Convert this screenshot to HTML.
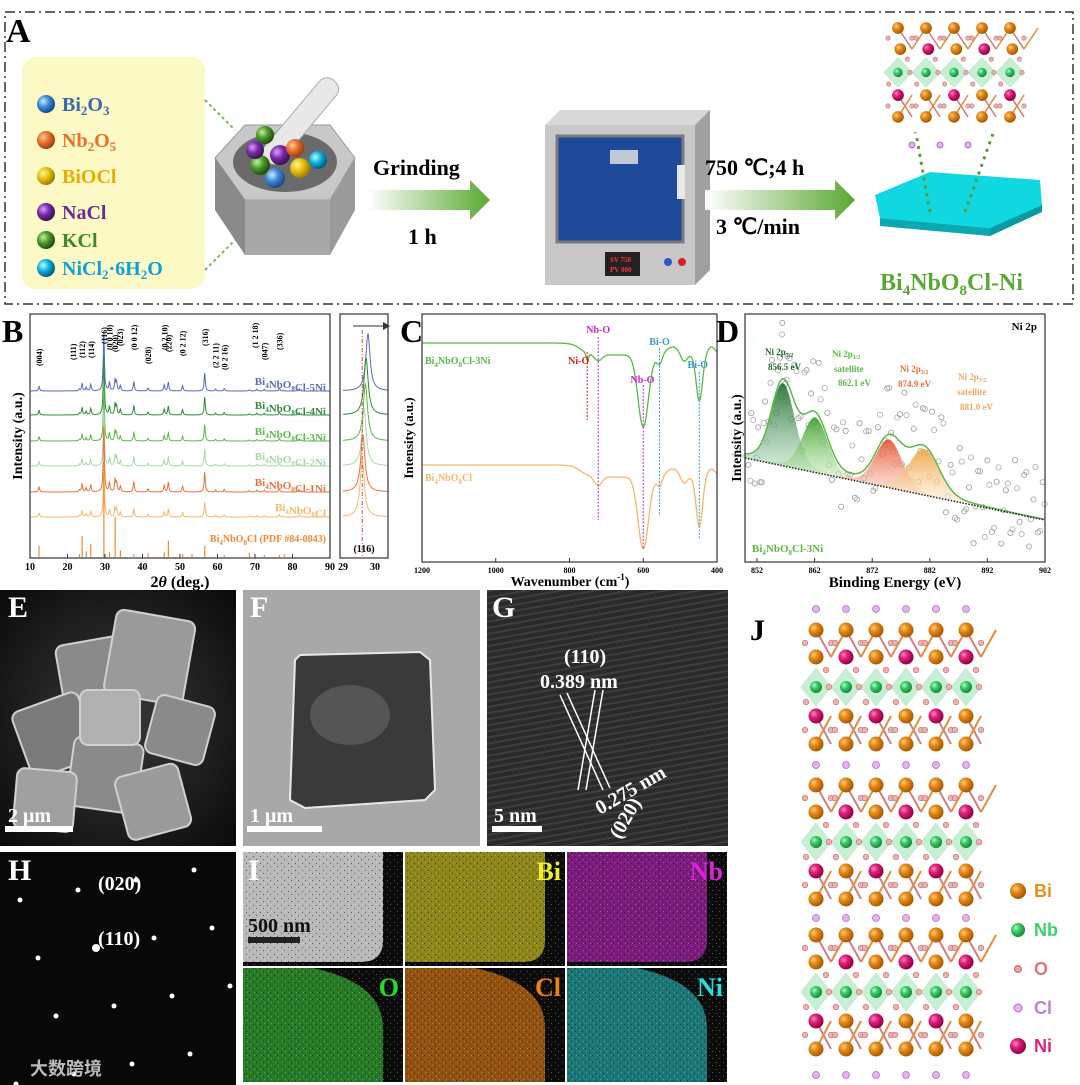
<!DOCTYPE html>
<html><head><meta charset="utf-8">
<style>
body{margin:0;background:#fff;}
svg{display:block;font-family:"Liberation Serif",serif;font-weight:bold;}
</style></head>
<body>
<svg id="fig" width="1080" height="1085" viewBox="0 0 1080 1085" xmlns="http://www.w3.org/2000/svg">
<defs>
<radialGradient id="gOr" cx="35%" cy="35%" r="65%"><stop offset="0" stop-color="#ffd27a"/><stop offset="0.4" stop-color="#e88a1a"/><stop offset="1" stop-color="#a85a00"/></radialGradient>
<radialGradient id="gNi" cx="35%" cy="35%" r="65%"><stop offset="0" stop-color="#ff8ac4"/><stop offset="0.4" stop-color="#e0207a"/><stop offset="1" stop-color="#900040"/></radialGradient>
<radialGradient id="gNb" cx="35%" cy="35%" r="65%"><stop offset="0" stop-color="#b8ffcc"/><stop offset="0.4" stop-color="#3ccf6a"/><stop offset="1" stop-color="#1a8a3a"/></radialGradient>
<radialGradient id="gBl" cx="35%" cy="35%" r="65%"><stop offset="0" stop-color="#cfe8ff"/><stop offset="0.5" stop-color="#3c8ad8"/><stop offset="1" stop-color="#1a4a8a"/></radialGradient>
<radialGradient id="gOrA" cx="35%" cy="35%" r="65%"><stop offset="0" stop-color="#ffc9a0"/><stop offset="0.5" stop-color="#e8702a"/><stop offset="1" stop-color="#a04010"/></radialGradient>
<radialGradient id="gYe" cx="35%" cy="35%" r="65%"><stop offset="0" stop-color="#fff4a0"/><stop offset="0.5" stop-color="#e8c010"/><stop offset="1" stop-color="#a08000"/></radialGradient>
<radialGradient id="gPu" cx="35%" cy="35%" r="65%"><stop offset="0" stop-color="#d8a0ff"/><stop offset="0.5" stop-color="#7a2aa8"/><stop offset="1" stop-color="#40105a"/></radialGradient>
<radialGradient id="gGr" cx="35%" cy="35%" r="65%"><stop offset="0" stop-color="#c8f0a0"/><stop offset="0.5" stop-color="#4a9a2a"/><stop offset="1" stop-color="#205010"/></radialGradient>
<radialGradient id="gCy" cx="35%" cy="35%" r="65%"><stop offset="0" stop-color="#c0f8ff"/><stop offset="0.5" stop-color="#10b0e0"/><stop offset="1" stop-color="#006080"/></radialGradient>
<linearGradient id="arrowG" x1="0" x2="1"><stop offset="0" stop-color="#fff"/><stop offset="1" stop-color="#5aa832"/></linearGradient>
<linearGradient id="pk1" x1="0" y1="0" x2="0" y2="1"><stop offset="0" stop-color="#1a6a2a"/><stop offset="1" stop-color="#bfe8c8" stop-opacity="0.6"/></linearGradient>
<linearGradient id="pk2" x1="0" y1="0" x2="0" y2="1"><stop offset="0" stop-color="#3aa02a"/><stop offset="1" stop-color="#d8f0c8" stop-opacity="0.6"/></linearGradient>
<linearGradient id="pk3" x1="0" y1="0" x2="0" y2="1"><stop offset="0" stop-color="#e0502a"/><stop offset="1" stop-color="#ffe0d0" stop-opacity="0.6"/></linearGradient>
<linearGradient id="pk4" x1="0" y1="0" x2="0" y2="1"><stop offset="0" stop-color="#f0a040"/><stop offset="1" stop-color="#fff0d8" stop-opacity="0.6"/></linearGradient>
<radialGradient id="semG" cx="50%" cy="50%" r="70%"><stop offset="0" stop-color="#3a3a3a"/><stop offset="1" stop-color="#0a0a0a"/></radialGradient>
<pattern id="stripes" width="6" height="6" patternUnits="userSpaceOnUse" patternTransform="rotate(80)"><rect width="6" height="6" fill="#2a2a2a"/><rect width="2" height="6" fill="#3e3e3e"/></pattern>
<pattern id="noise" width="7" height="7" patternUnits="userSpaceOnUse"><rect width="7" height="7" fill="none"/><rect x="1" y="2" width="1" height="1" fill="#000" opacity=".5"/><rect x="4" y="5" width="1" height="1" fill="#000" opacity=".5"/><rect x="5" y="1" width="1" height="1" fill="#fff" opacity=".3"/><rect x="2" y="5" width="1" height="1" fill="#fff" opacity=".3"/></pattern>
</defs>

<!-- PANEL A -->
<g>
<rect x="5" y="12" width="1068" height="292" fill="none" stroke="#333" stroke-width="1.5" stroke-dasharray="10,4,2,4"/>
<text x="6" y="42" font-size="34">A</text>
<rect x="22" y="57" width="183" height="232" rx="14" fill="#fdf9c4"/>
<g font-size="20">
<circle cx="46" cy="104" r="9" fill="url(#gBl)"/><text x="62" y="111" fill="#3a6ab0">Bi<tspan font-size="13" dy="4">2</tspan><tspan dy="-4">O</tspan><tspan font-size="13" dy="4">3</tspan></text>
<circle cx="46" cy="140" r="9" fill="url(#gOrA)"/><text x="62" y="147" fill="#e8702a">Nb<tspan font-size="13" dy="4">2</tspan><tspan dy="-4">O</tspan><tspan font-size="13" dy="4">5</tspan></text>
<circle cx="46" cy="176" r="9" fill="url(#gYe)"/><text x="62" y="183" fill="#e0b000">BiOCl</text>
<circle cx="46" cy="212" r="9" fill="url(#gPu)"/><text x="62" y="219" fill="#6a2a98">NaCl</text>
<circle cx="46" cy="240" r="9" fill="url(#gGr)"/><text x="62" y="247" fill="#3a8a2a">KCl</text>
<circle cx="46" cy="268" r="9" fill="url(#gCy)"/><text x="62" y="275" fill="#10a0d8">NiCl<tspan font-size="13" dy="4">2</tspan><tspan dy="-4">·6H</tspan><tspan font-size="13" dy="4">2</tspan><tspan dy="-4">O</tspan></text>
</g>
<line x1="205" y1="100" x2="235" y2="130" stroke="#7ab85a" stroke-width="2" stroke-dasharray="3,3"/>
<line x1="205" y1="270" x2="250" y2="225" stroke="#7ab85a" stroke-width="2" stroke-dasharray="3,3"/>
<g>
<polygon points="215,158 245,125 330,125 355,158 330,200 245,200" fill="#c8c8c8" stroke="#999"/>
<polygon points="215,158 245,200 245,255 215,210" fill="#8a8a8a"/>
<polygon points="245,200 330,200 330,255 245,255" fill="#a8a8a8"/>
<polygon points="330,200 355,158 355,210 330,255" fill="#9a9a9a"/>
<ellipse cx="285" cy="162" rx="52" ry="30" fill="#6a6a6a"/>
<rect x="290" y="68" width="22" height="105" rx="10" transform="rotate(40 300 120)" fill="#e8e8e8" stroke="#aaa"/>
<circle cx="260" cy="165" r="10" fill="url(#gGr)"/><circle cx="280" cy="155" r="10" fill="url(#gPu)"/><circle cx="300" cy="168" r="10" fill="url(#gYe)"/><circle cx="275" cy="178" r="10" fill="url(#gBl)"/><circle cx="255" cy="150" r="9" fill="url(#gPu)"/><circle cx="295" cy="148" r="9" fill="url(#gOrA)"/><circle cx="318" cy="160" r="9" fill="url(#gCy)"/><circle cx="265" cy="135" r="9" fill="url(#gGr)"/>
</g>
<polygon points="368,190 470,190 470,180 490,200 470,220 470,210 368,210" fill="url(#arrowG)"/>
<text x="373" y="175" font-size="22">Grinding</text>
<text x="408" y="244" font-size="22">1 h</text>
<g>
<polygon points="545,125 560,110 710,110 695,125" fill="#d8d8d8"/>
<polygon points="695,125 710,110 710,270 695,285" fill="#a0a0a0"/>
<rect x="545" y="125" width="150" height="160" fill="#c8c8c8"/>
<rect x="557" y="136" width="126" height="106" fill="#1f4a9a" stroke="#7a7a7a" stroke-width="3"/>
<rect x="610" y="150" width="28" height="14" fill="#c0c8d8"/>
<rect x="677" y="165" width="8" height="34" fill="#e8e8e8"/>
<rect x="605" y="252" width="35" height="24" fill="#222"/>
<text x="610" y="262" font-size="7" fill="#f33">SV 750</text><text x="610" y="272" font-size="7" fill="#f33">PV 000</text>
<circle cx="668" cy="262" r="4" fill="#2a5ac8"/><circle cx="682" cy="262" r="4" fill="#d82020"/>
</g>
<polygon points="705,190 835,190 835,180 855,200 835,220 835,210 705,210" fill="url(#arrowG)"/>
<text x="705" y="175" font-size="22">750 ℃;4 h</text>
<text x="716" y="234" font-size="22">3 ℃/min</text>
<g>
<polygon points="875,195 930,172 1040,180 1042,205 990,228 880,218" fill="#10d8e0"/>
<polygon points="880,218 990,228 990,236 880,226" fill="#0aa8b0"/>
<polygon points="990,228 1042,205 1042,212 990,236" fill="#089aa0"/>
<line x1="930" y1="212" x2="910" y2="100" stroke="#5a9a3a" stroke-width="3" stroke-dasharray="3,5"/>
<line x1="965" y1="212" x2="1005" y2="100" stroke="#5a9a3a" stroke-width="3" stroke-dasharray="3,5"/>
</g>
<g>
<ellipse cx="955" cy="78" rx="82" ry="62" fill="#fff"/>
<g id="zoomRows"></g>
</g>
<text x="880" y="290" font-size="24" fill="#5aa832">Bi<tspan font-size="15" dy="5">4</tspan><tspan dy="-5">NbO</tspan><tspan font-size="15" dy="5">8</tspan><tspan dy="-5">Cl-Ni</tspan></text>
</g>

<!-- PANEL B -->
<g>
<text x="2" y="342" font-size="32">B</text>
<g id="xrdPlot"></g>
<rect x="30" y="314" width="300" height="244" fill="none" stroke="#333" stroke-width="1.2"/>
<rect x="340" y="314" width="48" height="244" fill="none" stroke="#333" stroke-width="1.2"/>
<text transform="translate(22,436) rotate(-90)" text-anchor="middle" font-size="14">Intensity (a.u.)</text>
<text x="180" y="587" text-anchor="middle" font-size="16">2<tspan font-style="italic">θ</tspan> (deg.)</text>
<text x="364" y="552" text-anchor="middle" font-size="10">(116)</text>
<line x1="353" y1="326" x2="383" y2="326" stroke="#333" stroke-width="1"/><polygon points="383,322 390,326 383,330" fill="#333"/>
</g>

<!-- PANEL C -->
<g>
<text x="400" y="342" font-size="32">C</text>
<g id="ftirPlot"></g>
<rect x="422" y="314" width="295" height="248" fill="none" stroke="#333" stroke-width="1.2"/>
<text transform="translate(413,438) rotate(-90)" text-anchor="middle" font-size="13">Intensity (a.u.)</text>
<text x="570" y="586" text-anchor="middle" font-size="14">Wavenumber (cm<tspan font-size="9" dy="-6">-1</tspan><tspan dy="6">)</tspan></text>
</g>

<!-- PANEL D -->
<g>
<text x="716" y="342" font-size="32">D</text>
<g id="xpsPlot"></g>
<rect x="745" y="314" width="300" height="248" fill="none" stroke="#333" stroke-width="1.2"/>
<text transform="translate(741,438) rotate(-90)" text-anchor="middle" font-size="14">Intensity (a.u.)</text>
<text x="895" y="587" text-anchor="middle" font-size="15">Binding Energy (eV)</text>
<text x="1037" y="330" text-anchor="end" font-size="11">Ni 2p</text>
<text x="752" y="552" font-size="11" fill="#5cb848">Bi<tspan font-size="7" dy="3">4</tspan><tspan dy="-3">NbO</tspan><tspan font-size="7" dy="3">8</tspan><tspan dy="-3">Cl-3Ni</tspan></text>
<g font-size="9">
<text x="765" y="355" fill="#1a6a2a">Ni 2p<tspan font-size="6" dy="2">3/2</tspan></text><text x="768" y="370" fill="#1a6a2a">856.5 eV</text>
<text x="832" y="357" fill="#5cb848">Ni 2p<tspan font-size="6" dy="2">3/2</tspan></text><text x="834" y="372" fill="#5cb848">satellite</text><text x="838" y="386" fill="#5cb848">862.1 eV</text>
<text x="900" y="372" fill="#e8703a">Ni 2p<tspan font-size="6" dy="2">3/2</tspan></text><text x="898" y="387" fill="#e8703a">874.9 eV</text>
<text x="958" y="380" fill="#f0a860">Ni 2p<tspan font-size="6" dy="2">3/2</tspan></text><text x="957" y="395" fill="#f0a860">satellite</text><text x="960" y="410" fill="#f0a860">881.0 eV</text>
</g>
</g>

<!-- PANEL E -->
<g>
<rect x="0" y="590" width="236" height="256" fill="url(#semG)"/>
<g fill="#8a8a8a" stroke="#d0d0d0" stroke-width="2">
<rect x="60" y="640" width="70" height="70" rx="8" transform="rotate(-10 95 675)"/>
<rect x="110" y="615" width="80" height="85" rx="8" transform="rotate(10 150 655)" fill="#9a9a9a"/>
<rect x="150" y="700" width="60" height="60" rx="8" transform="rotate(15 180 730)"/>
<rect x="20" y="700" width="70" height="70" rx="8" transform="rotate(-20 55 735)" fill="#7a7a7a"/>
<rect x="70" y="740" width="70" height="70" rx="8" transform="rotate(8 105 775)"/>
<rect x="120" y="770" width="65" height="65" rx="8" transform="rotate(-15 150 800)" fill="#9a9a9a"/>
<rect x="15" y="770" width="60" height="60" rx="8" transform="rotate(5 45 800)" fill="#a0a0a0"/>
<rect x="80" y="690" width="60" height="55" rx="8" fill="#b0b0b0"/>
</g>
<text x="8" y="617" font-size="30" fill="#fff">E</text>
<rect x="5" y="826" width="68" height="6" fill="#fff"/>
<text x="8" y="822" font-size="20" fill="#fff">2 μm</text>
</g>

<!-- PANEL F -->
<g>
<rect x="243" y="590" width="237" height="256" fill="#a8a8a8"/>
<path d="M295,660 L300,655 L420,652 L430,660 L435,790 L425,800 L305,808 L290,800 Z" fill="#3a3a3a" stroke="#e8e8e8" stroke-width="2"/>
<ellipse cx="350" cy="715" rx="40" ry="30" fill="#555"/>
<text x="250" y="617" font-size="30" fill="#fff">F</text>
<rect x="247" y="826" width="75" height="6" fill="#fff"/>
<text x="250" y="822" font-size="20" fill="#fff">1 μm</text>
</g>

<!-- PANEL G -->
<g>
<rect x="487" y="590" width="241" height="256" fill="url(#stripes)"/>
<text x="492" y="617" font-size="30" fill="#fff">G</text>
<g stroke="#fff" stroke-width="1.5">
<line x1="560" y1="695" x2="603" y2="790"/><line x1="567" y1="693" x2="610" y2="788"/>
<line x1="595" y1="690" x2="578" y2="790"/><line x1="603" y1="690" x2="586" y2="790"/>
</g>
<text x="564" y="663" font-size="20" fill="#fff">(110)</text>
<text x="540" y="688" font-size="20" fill="#fff">0.389 nm</text>
<text transform="translate(600,815) rotate(-30)" font-size="20" fill="#fff">0.275 nm</text>
<text transform="translate(620,840) rotate(-60)" font-size="20" fill="#fff">(020)</text>
<rect x="492" y="826" width="50" height="6" fill="#fff"/>
<text x="494" y="822" font-size="20" fill="#fff">5 nm</text>
</g>

<!-- PANEL H -->
<g>
<rect x="0" y="852" width="236" height="233" fill="#080808"/>
<g id="saed" fill="#fff"></g>
<text x="8" y="880" font-size="30" fill="#fff">H</text>
<text x="98" y="890" font-size="20" fill="#fff">(020)</text>
<text x="98" y="945" font-size="20" fill="#fff">(110)</text>
<text x="30" y="1075" font-size="18" fill="#bbb" font-family="'Liberation Sans','Noto Sans CJK SC',sans-serif">大数跨境</text>
</g>

<!-- PANEL I -->
<g id="mapping"></g>

<!-- PANEL J -->
<g>
<text x="750" y="640" font-size="30">J</text>
<g id="structure"></g>
<g font-size="18" font-family="'Liberation Sans',sans-serif">
<circle cx="1018" cy="891" r="8" fill="url(#gOr)"/><text x="1034" y="897" fill="#e8901a">Bi</text>
<circle cx="1018" cy="930" r="7" fill="url(#gNb)"/><text x="1034" y="936" fill="#3ccf6a">Nb</text>
<circle cx="1018" cy="969" r="3.5" fill="#e8a0a0" stroke="#c07070"/><text x="1034" y="975" fill="#e07878">O</text>
<circle cx="1018" cy="1008" r="4" fill="#e8b0f0" stroke="#b070c0"/><text x="1034" y="1014" fill="#c080d8">Cl</text>
<circle cx="1018" cy="1046" r="8" fill="url(#gNi)"/><text x="1034" y="1052" fill="#e0207a">Ni</text>
</g>
</g>
</svg>

<script>
const NS="http://www.w3.org/2000/svg";
function mk(tag,attrs,parent){const e=document.createElementNS(NS,tag);for(const k in attrs)e.setAttribute(k,attrs[k]);parent.appendChild(e);return e;}

// ===== XRD data =====
const xrdPeaks=[12.4,23.2,23.9,25.0,26.2,29.7,31.2,32.7,33.1,34.1,37.7,41.5,45.8,46.9,50.7,56.6,59.5,61.8,68.5,70.5,72.5,76.5,81.8];
const xrdHeights=[8,3,12,6,11,100,14,18,14,9,16,5,10,15,9,30,3,4,2,3,3,5,4];
const xrdSeries=["Bi4NbO8Cl-5Ni","Bi4NbO8Cl-4Ni","Bi4NbO8Cl-3Ni","Bi4NbO8Cl-2Ni","Bi4NbO8Cl-1Ni","Bi4NbO8Cl"];
const xrdScale=[1.0,1.0,0.9,0.95,1.1,0.85];
const xrdColors=["#5b6bbf","#2e8b3e","#5cb848","#a8d8a8","#e8733a","#f5b86a"];
const xrdBase=[391,415,441,466,492,517];
const pdfPeaks=[12.4,23.2,23.9,25.0,26.2,29.7,31.2,32.7,34.1,37.7,41.5,45.8,46.9,50.7,53.2,56.6,61.8,68.5,72.5,76.5,77.8];
const pdfHeights=[12,3,22,6,14,100,5,42,7,3,4,5,17,3,3,12,2,4,2,2,3];
const insetCenters=[29.78,29.72,29.70,29.66,29.62,29.60];
const xrdTicks=[10,20,30,40,50,60,70,80,90];
const hkl=[["(004)",12.4],["(111)",21.5],["(112)",23.9],["(114)",26.2],["(116)",29.7],["(0 0 10)",31.2],["(020)",32.7],["(023)",34.0],["(0 0 12)",37.7],["(028)",41.5],["(0 2 10)",45.8],["(220)",46.9],["(0 2 12)",50.7],["(316)",56.6],["(2 2 11)",59.5],["(0 2 16)",61.8],["(1 2 18)",70],["(047)",72.5],["(336)",76.5]];
const hklTop=[338,332,330,330,316,322,324,318,322,336,322,324,328,318,340,342,320,332,322];

const xrdG=document.getElementById('xrdPlot');
const xX=t=>30+(t-10)/80*300;
const xIn=t=>343+(t-29)/1.0*32;
xrdSeries.forEach((name,i)=>{
  let d="";
  for(let t=10.2;t<=89.9;t+=0.08){
    let v=0;xrdPeaks.forEach((p,k)=>{v+=xrdHeights[k]/(1+Math.pow((t-p)/0.18,2));});
    let y=xrdBase[i]-v*0.6*xrdScale[i];
    y=Math.max(y,316);
    d+=(d?"L":"M")+xX(t).toFixed(1)+","+y.toFixed(1);
  }
  const p=mk('path',{d:d,fill:'none',stroke:xrdColors[i],'stroke-width':1},xrdG);
  
  
  const tx=mk('text',{x:326,y:xrdBase[i]-6,'text-anchor':'end','font-size':11,fill:xrdColors[i]},xrdG);
  tx.innerHTML=name.replace(/(\d)(?=Nb|Cl)/g,'<tspan font-size="7" dy="3">$1</tspan><tspan dy="-3"></tspan>');
  
  
  let di="";
  for(let t=29.0;t<=30.4;t+=0.01){
    const v=60/(1+Math.pow((t-insetCenters[i])/0.08,2));
    di+=(di?"L":"M")+xIn(t).toFixed(1)+","+(xrdBase[i]-v*0.95).toFixed(1);
  }
  const ip=mk('path',{d:di,fill:'none',stroke:xrdColors[i],'stroke-width':1},xrdG);
  
  
});
pdfPeaks.forEach((p,k)=>{
  const l=mk('line',{x1:xX(p),x2:xX(p),y1:557,y2:557-pdfHeights[k]*0.95,stroke:'#f08a30','stroke-width':1.2},xrdG);
  
  
});
{const t=mk('text',{x:326,y:542,'text-anchor':'end','font-size':10,fill:'#f08a30'},xrdG);t.innerHTML='Bi<tspan font-size="7" dy="3">4</tspan><tspan dy="-3">NbO</tspan><tspan font-size="7" dy="3">8</tspan><tspan dy="-3">Cl (PDF #84-0843)</tspan>';

}
mk('line',{x1:xIn(29.6),x2:xIn(29.6),y1:330,y2:556,stroke:'#d02020','stroke-dasharray':'4,2,1,2','stroke-width':0.8},xrdG);
hkl.forEach((h,k)=>{
  const t=mk('text',{transform:`translate(${xX(h[1])+3},${hklTop[k]+28}) rotate(-90)`,'font-size':8},xrdG);
  t.textContent=h[0];
  
  
});
xrdTicks.forEach(t=>{
  mk('line',{x1:xX(t),x2:xX(t),y1:558,y2:554,stroke:'#333'},xrdG);
  const tx=mk('text',{x:xX(t),y:570,'text-anchor':'middle','font-size':10},xrdG);
  tx.textContent=t;
  
  
});
[29,30].forEach(t=>{const tx=mk('text',{x:xIn(t),y:570,'text-anchor':'middle','font-size':10},xrdG);tx.textContent=t;

});

// ===== FTIR data =====
const ftirCenters=[752,722,690,600,556,490,448];
const ftirWidths=[5,14,10,20,10,12,12];
const ftirDepth3Ni=[7,6,0,72,10,8,46];
const ftirDepthPure=[0,9,0,72,10,8,50];
const ftirBase=[343,465];
const ftirColors=["#5cb848","#f5b86a"];
const ftirTicks=[1200,1000,800,600,400];
const ftirG=document.getElementById('ftirPlot');
const xW=w=>422+(1200-w)/800*295;
[ftirDepth3Ni,ftirDepthPure].forEach((dep,i)=>{
  let d="";
  for(let w=1200;w>=400;w-=2){
    let y=ftirBase[i];
    y+=12/(1+Math.exp(-(770-w)/12));
    ftirCenters.forEach((c,k)=>{y+=dep[k]*Math.exp(-Math.pow((w-c)/ftirWidths[k],2));});
    y-=8*Math.exp(-Math.pow((w-520)/25,2))+8*Math.exp(-Math.pow((w-415)/15,2));
    d+=(d?"L":"M")+xW(w).toFixed(1)+","+y.toFixed(1);
  }
  const p=mk('path',{d:d,fill:'none',stroke:ftirColors[i],'stroke-width':1.3},ftirG);
  
  
});
[["#d02020",752,352,420,"Ni-O",775,364],["#d020d0",722,337,520,"Nb-O",722,333],["#d020d0",600,385,548,"Nb-O",602,383],["#3a9ad8",556,348,515,"Bi-O",556,345],["#3a9ad8",448,372,540,"Bi-O",452,368]].forEach(a=>{
  mk('line',{x1:xW(a[1]),x2:xW(a[1]),y1:a[2],y2:a[3],stroke:a[0],'stroke-dasharray':'2,1.5','stroke-width':1},ftirG);
  const t=mk('text',{x:xW(a[5]),y:a[6],'text-anchor':'middle','font-size':10,fill:a[0]},ftirG);t.textContent=a[4];
  
  
});
{const t=mk('text',{x:425,y:364,'font-size':10,fill:'#5cb848'},ftirG);t.innerHTML='Bi<tspan font-size="7" dy="3">4</tspan><tspan dy="-3">NbO</tspan><tspan font-size="7" dy="3">8</tspan><tspan dy="-3">Cl-3Ni</tspan>';


const t2=mk('text',{x:425,y:481,'font-size':10,fill:'#f5b86a'},ftirG);t2.innerHTML='Bi<tspan font-size="7" dy="3">4</tspan><tspan dy="-3">NbO</tspan><tspan font-size="7" dy="3">8</tspan><tspan dy="-3">Cl</tspan>';

}
ftirTicks.forEach(w=>{mk('line',{x1:xW(w),x2:xW(w),y1:562,y2:558,stroke:'#333'},ftirG);
const t=mk('text',{x:xW(w),y:573,'text-anchor':'middle','font-size':8},ftirG);t.textContent=w;

});

// ===== XPS data =====
const xpsCenters=[856.5,862.1,874.9,881.0];
const xpsHeights=[72,48,42,40];
const xpsSigma=[1.3,1.4,1.5,1.7];
const xpsFills=["url(#pk1)","url(#pk2)","url(#pk3)","url(#pk4)"];
const xpsTicks=[852,862,872,882,892,902];
const xpsScatterE=[850.5,851,851.6,852.2,852.8,853.4,854,854.6,855.3,856,856.4,856.8,857.3,857.9,858.5,859.2,859.9,860.6,861.4,862,862.7,863.4,864.2,865,865.8,866.6,867.4,868.2,869,869.8,870.6,871.4,872.2,873,873.8,874.6,875.3,876,876.8,877.6,878.4,879.2,880,880.8,881.6,882.4,883.2,884,884.8,885.6,886.4,887.2,888,888.8,889.6,890.4,891.2,892,892.8,893.6,894.4,895.2,896,896.8,897.6,898.4,899.2,900,900.8,901.6];
const xpsScatterDy=[12,-20,25,-8,30,-15,5,-25,18,-10,-30,8,-12,22,-18,10,28,-22,-6,12,-28,16,-10,24,-14,30,-20,6,20,-26,10,-16,26,-8,14,-24,4,22,-12,-28,18,-6,28,-18,8,-22,16,-30,24,-10,20,-26,12,-4,30,-16,6,-24,20,-12,26,-8,18,-28,10,-20,24,-6,14,-18];
const xpsG=document.getElementById('xpsPlot');
const xE=e=>757+(e-852)/50*288;
const bg=e=>458+(e-849.9)/52.1*62;
const pk=(e,k)=>xpsHeights[k]*Math.exp(-Math.pow((e-xpsCenters[k])/(xpsSigma[k]*1.5),2)/2)+ xpsHeights[k]*0.15/(1+Math.pow((e-xpsCenters[k])/4,2));
xpsScatterE.forEach((e,i)=>{
  let v=0;for(let k=0;k<4;k++)v+=pk(e,k);
  const c=mk('circle',{cx:xE(e),cy:bg(e)-v-8+xpsScatterDy[i]*1.6,r:2.6,fill:'none',stroke:'#999','stroke-width':0.8},xpsG);
  
  
  const c2=mk('circle',{cx:xE(e)+2,cy:bg(e)-v-8-xpsScatterDy[(i+7)%xpsScatterDy.length]*1.4,r:2.6,fill:'none',stroke:'#aaa','stroke-width':0.8},xpsG);
  
  
});
xpsCenters.forEach((c,k)=>{
  let d="M"+xE(c-9)+","+bg(c-9);
  for(let e=c-9;e<=c+9;e+=0.2){d+="L"+xE(e).toFixed(1)+","+(bg(e)-pk(e,k)).toFixed(1);}
  d+="L"+xE(c+9)+","+bg(c+9)+"Z";
  const p=mk('path',{d:d,fill:xpsFills[k],opacity:0.9},xpsG);
  
  
});
{let d="";for(let e=849.9;e<=902;e+=0.2){let v=0;for(let k=0;k<4;k++)v+=pk(e,k);d+=(d?"L":"M")+xE(e).toFixed(1)+","+(bg(e)-v).toFixed(1);}
const p=mk('path',{d:d,fill:'none',stroke:'#5cb848','stroke-width':1.5},xpsG);


const b=mk('line',{x1:745,y1:bg(849.9),x2:1045,y2:bg(902),stroke:'#222','stroke-width':1.5,'stroke-dasharray':'1.5,1.5'},xpsG);

}
xpsTicks.forEach(e=>{mk('line',{x1:xE(e),x2:xE(e),y1:562,y2:558,stroke:'#333'},xpsG);
const t=mk('text',{x:xE(e),y:573,'text-anchor':'middle','font-size':8},xpsG);t.textContent=e;

});

// ===== SAED spots =====
const saed=document.getElementById('saed');
for(let r=-1;r<=3;r++)for(let c=-1;c<=3;c++){
  const x=20+c*58+r*18, y=860+r*58-c*10+40;
  if(x>0&&x<236&&y>852&&y<1085){const s=mk('circle',{cx:x,cy:y,r:(r==1&&c==1)?4:2.5,fill:'#fff'},saed);
  
  }
}

// ===== EDS mapping =====
const mapG=document.getElementById('mapping');
const tiles=[["",243,852,"#d8d8d8"],["Bi",405,852,"#b8b020"],["Nb",567,852,"#a020a0"],["O",243,968,"#30a030"],["Cl",405,968,"#c06a10"],["Ni",567,968,"#209a9a"]];
const tileLabelColors=["#fff","#f0f020","#e020e0","#20e020","#f08010","#20e0e0"];
tiles.forEach((t,i)=>{
  const g=mk('g',{},mapG);
  
  
  mk('rect',{x:t[1],y:t[2],width:160,height:114,fill:'#0c0c0c'},g);
  const top=i<3;
  if(top) mk('path',{d:`M${t[1]},${t[2]} H${t[1]+140} V${t[2]+88} Q${t[1]+140},${t[2]+110} ${t[1]+118},${t[2]+110} H${t[1]} Z`,fill:t[3],opacity:i==0?0.85:0.75},g);
  else mk('path',{d:`M${t[1]},${t[2]+114} V${t[2]} H${t[1]+70} Q${t[1]+140},${t[2]+15} ${t[1]+140},${t[2]+60} V${t[2]+114} Z`,fill:t[3],opacity:0.75},g);
  mk('rect',{x:t[1],y:t[2],width:160,height:114,fill:'url(#noise)'},g);
  if(t[0]){const tx=mk('text',{x:t[1]+156,y:t[2]+28,'text-anchor':'end','font-size':26,fill:tileLabelColors[i]},g);tx.textContent=t[0];}
});
{const l=mk('text',{x:248,y:880,'font-size':30,fill:'#fff'},mapG);l.textContent='I';


mk('rect',{x:248,y:937,width:52,height:6,fill:'#222'},mapG);
const s=mk('text',{x:248,y:932,'font-size':20,fill:'#111'},mapG);s.textContent='500 nm';

}

// ===== Crystal structure =====
function layer(g,y0,x0,dx,n,scale){
  const xs=[];for(let i=0;i<n;i++)xs.push(x0+i*dx);
  const r=scale;
  xs.forEach((x,i)=>{
    mk('line',{x1:x,y1:y0,x2:x+dx/2,y2:y0+27*r,stroke:'#d08080','stroke-width':2*r},g);
    mk('line',{x1:x+dx/2,y1:y0+27*r,x2:x+dx,y2:y0,stroke:'#e09040','stroke-width':2*r},g);
    mk('line',{x1:x,y1:y0+86*r,x2:x+dx/2,y2:y0+114*r,stroke:'#d08080','stroke-width':2*r},g);
    mk('line',{x1:x+dx/2,y1:y0+86*r,x2:x,y2:y0+114*r,stroke:'#e09040','stroke-width':2*r},g);
  });
  xs.forEach(x=>{mk('polygon',{points:`${x},${y0+38*r} ${x+dx/2},${y0+57*r} ${x},${y0+76*r} ${x-dx/2},${y0+57*r}`,fill:'#8fe0a8',opacity:0.5,stroke:'#7acc90','stroke-width':0.6},g);});
  xs.forEach((x,i)=>{
    mk('circle',{cx:x,cy:y0,r:7.5*r,fill:'url(#gOr)'},g);
    mk('circle',{cx:x+dx/2-15*r,cy:y0+27*r,r:7.5*r,fill:i%2?'url(#gNi)':'url(#gOr)'},g);
    mk('circle',{cx:x,cy:y0+57*r,r:6*r,fill:'url(#gNb)'},g);
    mk('circle',{cx:x,cy:y0+86*r,r:7.5*r,fill:i%2?'url(#gOr)':'url(#gNi)'},g);
    mk('circle',{cx:x,cy:y0+114*r,r:7.5*r,fill:'url(#gOr)'},g);
    [[dx/2,13],[-dx/2+4,13],[dx/3,40],[-dx/3,72],[dx/2,100],[-dx/2+4,100],[dx/2-2,57]].forEach(o=>mk('circle',{cx:x+o[0],cy:y0+o[1]*r,r:2.8*r,fill:'#f0b0b0',stroke:'#c07070','stroke-width':0.6},g));
  });
}
const st=document.getElementById('structure');
[630,785,935].forEach(y=>layer(st,y,816,30,6,1));
[609,765,918,1075].forEach(y=>{for(let i=0;i<6;i++){mk('circle',{cx:816+i*30,cy:y,r:3.5,fill:'#e8b0f0',stroke:'#b070c0','stroke-width':0.8},st);}});
const zr=document.getElementById('zoomRows');
layer(zr,28,898,28,5,0.78);
for(let i=0;i<3;i++)mk('circle',{cx:912+i*28,cy:145,r:3,fill:'#e8b0f0',stroke:'#b070c0'},zr);
</script>
</body></html>
